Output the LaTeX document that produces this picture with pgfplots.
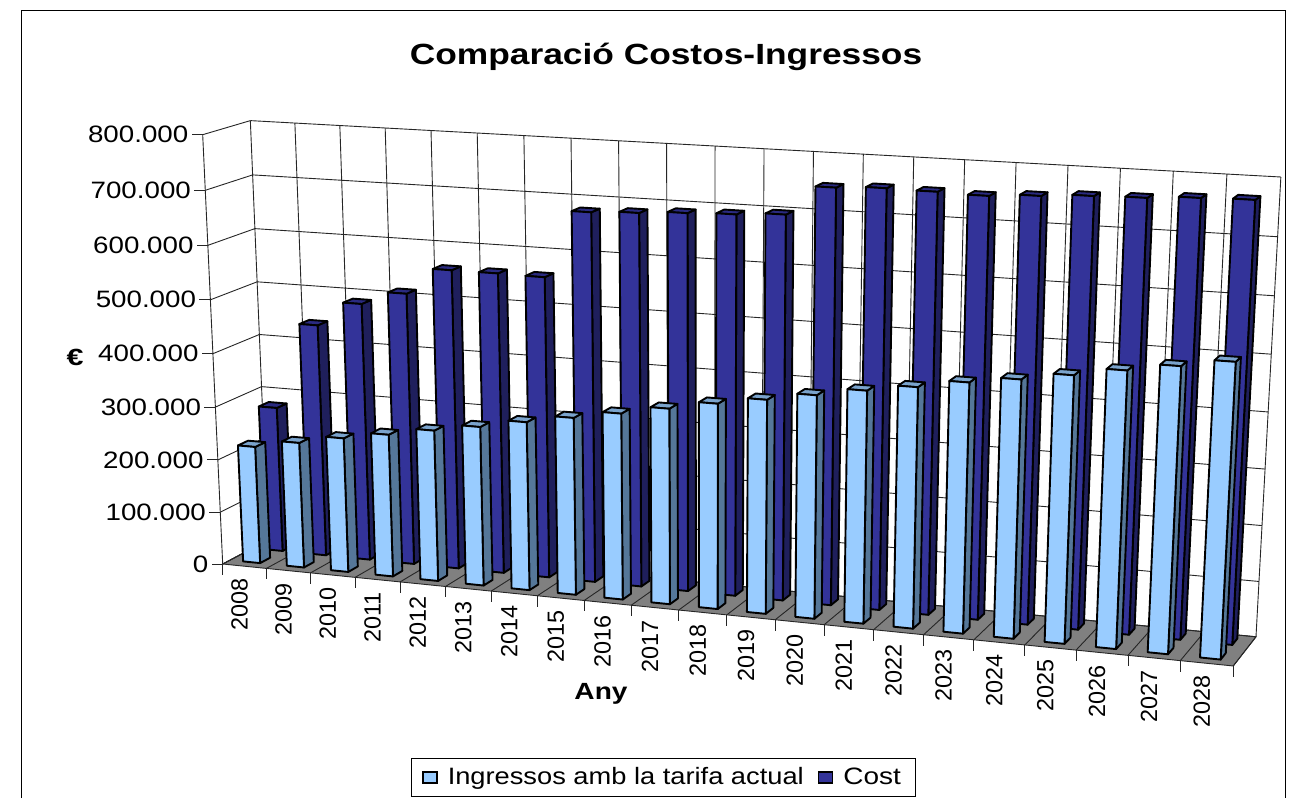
\documentclass[border=0pt]{standalone}
\usepackage{fontspec}
\setmainfont{Liberation Sans}
\usepackage{graphicx}
\usepackage{pgfplots}
\usepackage{pgfplotstable}
\pgfplotsset{compat=1.18}

\definecolor{lightbar}{HTML}{99CCFF}
\definecolor{lightside}{HTML}{557799}
\definecolor{lighttop}{HTML}{7AA3CC}
\definecolor{darkbar}{HTML}{333399}
\definecolor{darkside}{HTML}{1F1F5C}
\definecolor{darktop}{HTML}{2A2A80}

% values in thousands of euro
\pgfplotstableread{
i year ingressos cost
0 2008 223 277
1 2009 238 440
2 2010 254 486
3 2011 268 511
4 2012 283 560
5 2013 297 560
6 2014 313 559
7 2015 328 681
8 2016 343 685
9 2017 359 690
10 2018 375 693
11 2019 389 698
12 2020 404 750
13 2021 419 754
14 2022 432 753
15 2023 447 751
16 2024 459 756
17 2025 473 761
18 2026 488 763
19 2027 502 768
20 2028 516 770
}\chartdata

% the Excel 3-D box seen in perspective: X along the years, Y into the page, Z up
\def\wgtx{0.905}
\def\wgty{1.025}
\def\wgtz{0.96}
\newcommand\proj[3]{%
  \pgfmathsetmacro\wgt{1+(\wgtx-1)*(#1)+(\wgty-1)*(#2)+(\wgtz-1)*(#3)}%
  \pgfmathsetmacro\px{(222.7+(#1)*(\wgtx*1233.3-222.7)+(#2)*(\wgty*268-222.7)+(#3)*(\wgtz*202.7-222.7))/\wgt}%
  \pgfmathsetmacro\py{(564+(#1)*(\wgtx*666-564)+(#2)*(\wgty*540-564)+(#3)*(\wgtz*134.7-564))/\wgt}%
}
\newcommand\addpt[3]{\proj{#1}{#2}{#3}\xdef\pts{\pts (\px,\py)}}
\newcommand\drawpts[1]{\edef\tmp{\noexpand\addplot[#1] coordinates {\pts};}\tmp}
\newcommand\fillpts[1]{\edef\tmp{\noexpand\addplot[#1] coordinates {\pts} -- cycle;}\tmp}
\newcommand\gridline[6]{\xdef\pts{}\addpt{#1}{#2}{#3}\addpt{#4}{#5}{#6}\drawpts{gridc}}
\pgfplotsset{gridc/.style={draw=black!85,line width=0.45pt,forget plot}}
\pgfplotsset{facec/.style={draw=black,line width=0.95pt,line join=round,forget plot}}

\newcommand\prism[8]{% X0 X1 Y0 Y1 Z front side top
  \xdef\pts{}\addpt{#2}{#3}{0}\addpt{#2}{#4}{0}\addpt{#2}{#4}{#5}\addpt{#2}{#3}{#5}\fillpts{facec,fill=#7}%
  \xdef\pts{}\addpt{#1}{#3}{#5}\addpt{#2}{#3}{#5}\addpt{#2}{#4}{#5}\addpt{#1}{#4}{#5}\fillpts{facec,fill=#8}%
  \xdef\pts{}\addpt{#1}{#3}{0}\addpt{#2}{#3}{0}\addpt{#2}{#3}{#5}\addpt{#1}{#3}{#5}\fillpts{facec,fill=#6}%
}

\begin{document}
\begin{tikzpicture}
\fill[white] (0,0) rectangle (653pt,399pt);
\path[use as bounding box] (0,0) rectangle (653pt,399pt);
\begin{axis}[
    scale only axis,
    width=653pt,
    height=399pt,
    xmin=0, xmax=1306,
    ymin=0, ymax=798,
    y dir=reverse,
    hide axis,
    clip=false,
    legend columns=2,
    legend image code/.code={\draw[#1] (0pt,-2.7pt) rectangle (7pt,2.7pt);},
    legend style={
        at={(axis cs:663.5,777.5)}, anchor=center,
        draw=black, line width=0.5pt,
        font=\fontsize{11.85}{13}\selectfont,
        /tikz/every odd column/.append style={column sep=3pt},
        /tikz/every even column/.append style={column sep=5pt},
        inner ysep=2.5pt, inner xsep=5.5pt,
    },
    legend cell align=left,
]
\draw[black,line width=0.5pt] (axis cs:21,798) -- (axis cs:21,10) -- (axis cs:1285,10) -- (axis cs:1285,798);

% floor
\xdef\pts{}\addpt{0}{0}{0}\addpt{1}{0}{0}\addpt{1}{1}{0}\addpt{0}{1}{0}
\fillpts{fill=black!50,draw=black!85,line width=0.45pt,forget plot}

% back wall and side wall
\pgfplotsforeachungrouped \k in {0,...,8}{
  \pgfmathsetmacro\zz{\k/8}
  \gridline{0}{1}{\zz}{1}{1}{\zz}
  \gridline{0}{0}{\zz}{0}{1}{\zz}
  \proj{0}{0}{\zz}
  \pgfmathsetmacro\qx{\px-11}
  \pgfmathsetmacro\rx{\px-14}
  \edef\tmp{\noexpand\draw[black!85,line width=0.45pt] (axis cs:\px,\py) -- (axis cs:\qx,\py);}\tmp
  \pgfmathtruncatemacro\lab{\k*100}
  \ifnum\k=0 \def\lab{0}\else \edef\lab{\lab.000}\fi
  \edef\tmp{\noexpand\node[anchor=east,inner sep=0pt] at (axis cs:\rx,\py) {\noexpand\scalebox{1.17}[1]{\noexpand\fontsize{11.85}{13}\noexpand\selectfont \lab}};}\tmp
}
\gridline{0}{0}{0}{0}{0}{1}
\pgfplotsforeachungrouped \k in {0,...,21}{
  \pgfmathsetmacro\xx{\k/21}
  \gridline{\xx}{1}{0}{\xx}{1}{1}
  \gridline{\xx}{0}{0}{\xx}{1}{0}
  \proj{\xx}{0}{0}
  \pgfmathsetmacro\qy{\py+11}
  \edef\tmp{\noexpand\draw[black!85,line width=0.45pt] (axis cs:\px,\py) -- (axis cs:\px,\qy);}\tmp
}

% Cost, the row at the back
\pgfplotsforeachungrouped \k in {0,...,20}{
  \pgfplotstablegetelem{\k}{cost}\of\chartdata
  \pgfmathsetmacro\zz{\pgfplotsretval/800}
  \pgfmathsetmacro\xa{(\k+0.28)/21}
  \pgfmathsetmacro\xb{(\k+0.69)/21}
  \prism{\xa}{\xb}{0.66}{0.88}{\zz}{darkbar}{darkside}{darktop}
}
% Ingressos, the row in front
\pgfplotsforeachungrouped \k in {0,...,20}{
  \pgfplotstablegetelem{\k}{ingressos}\of\chartdata
  \pgfmathsetmacro\zz{\pgfplotsretval/800}
  \pgfmathsetmacro\xa{(\k+0.30)/21}
  \pgfmathsetmacro\xb{(\k+0.69)/21}
  \prism{\xa}{\xb}{0.16}{0.38}{\zz}{lightbar}{lightside}{lighttop}
  % year label
  \pgfplotstablegetelem{\k}{year}\of\chartdata
  \let\yr\pgfplotsretval
  \pgfmathsetmacro\xx{(\k+0.5)/21}
  \proj{\xx}{0}{0}
  \pgfmathsetmacro\qx{\px-5}
  \pgfmathsetmacro\qy{\py+12}
  \edef\tmp{\noexpand\node[rotate=90,anchor=east,inner sep=0pt,font=\noexpand\fontsize{11.7}{13}\noexpand\selectfont] at (axis cs:\qx,\qy) {\yr};}\tmp
}

\addlegendimage{fill=lightbar,draw=black,line width=0.8pt}
\addlegendentry{\scalebox{1.15}[1]{Ingressos amb la tarifa actual}}
\addlegendimage{fill=darkbar,draw=black,line width=0.8pt}
\addlegendentry{\scalebox{1.18}[1]{Cost}}

\node[inner sep=0pt] at (axis cs:666,57) {\scalebox{1.21}[1]{\fontsize{14.6}{16}\bfseries\selectfont Comparació Costos-Ingressos}};
\node[inner sep=0pt] at (axis cs:601,694) {\scalebox{1.2}[1]{\fontsize{11.7}{13}\bfseries\selectfont Any}};
\node[inner sep=0pt] at (axis cs:75,357) {\scalebox{1.3}[1]{\fontsize{11.7}{13}\bfseries\selectfont €}};
\end{axis}
\end{tikzpicture}
\end{document}
